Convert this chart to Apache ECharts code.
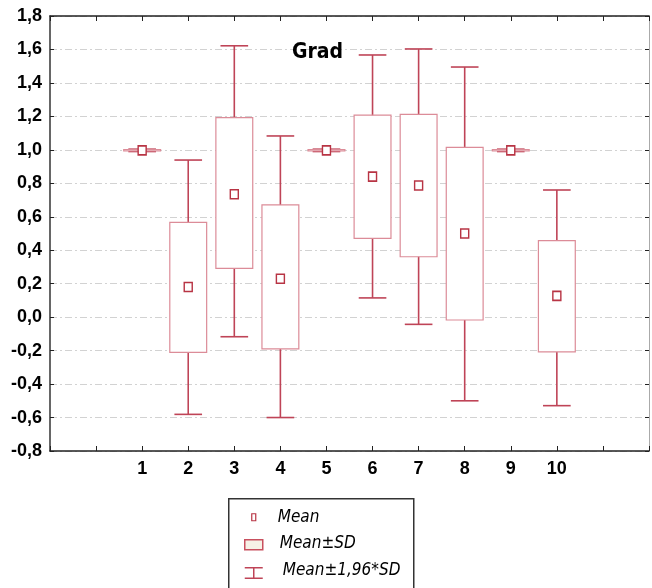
<!DOCTYPE html>
<html>
<head>
    <meta http-equiv="Content-Type" content="text/html; charset=utf-8" />
    <title>Grad</title>
    <script type="text/javascript" src="https://cdn.jsdelivr.net/npm/echarts@6/dist/echarts.min.js"></script>
    <style>
        html, body {
            margin: 0;
            padding: 0;
            background: #fff;
        }

        #chart {
            width: 652px;
            height: 588px;
        }
    </style>
</head>
<body>
    <div id="chart"></div>

    <script>
        // values
        var categories = ['1', '2', '3', '4', '5', '6', '7', '8', '9', '10'];
        var means = [0.997, 0.18, 0.735, 0.23, 0.997, 0.84, 0.787, 0.50, 0.997, 0.127];
        var sdLow = [0.993, -0.21, 0.292, -0.19, 0.993, 0.471, 0.361, -0.017, 0.993, -0.208];
        var sdHigh = [1.001, 0.567, 1.192, 0.671, 1.001, 1.207, 1.212, 1.015, 1.001, 0.457];
        var ciLow = [0.99, -0.581, -0.117, -0.60, 0.99, 0.115, -0.043, -0.50, 0.99, -0.529];
        var ciHigh = [1.004, 0.939, 1.622, 1.083, 1.004, 1.567, 1.603, 1.495, 1.004, 0.760];
        var yTicks = [-0.8, -0.6, -0.4, -0.2, 0.0, 0.2, 0.4, 0.6, 0.8, 1.0, 1.2, 1.4, 1.6, 1.8];

        var labelFont = "'Liberation Sans', Arial, sans-serif";
        var narrowFont = "'Liberation Sans Narrow', 'DejaVu Sans Condensed', 'Liberation Sans', sans-serif";
        var whiskerColor = '#bf4457';
        var boxColor = '#dc8c98';
        var meanColor = '#b83444';

        var myChart = echarts.init(document.getElementById('chart'), null, { renderer: 'canvas' });

        var ciData = categories.map(function (c, i) { return [i + 1, ciLow[i], ciHigh[i]]; });
        var sdData = categories.map(function (c, i) { return [i + 1, sdLow[i], sdHigh[i]]; });
        var meanData = categories.map(function (c, i) { return [i + 1, means[i]]; });

        function renderWhisker(params, api) {
            var x = api.value(0);
            var lo = api.coord([x, api.value(1)]);
            var hi = api.coord([x, api.value(2)]);
            var half = api.size([1, 0])[0] * 0.3;
            var style = { stroke: whiskerColor, lineWidth: 1.6 };
            return {
                type: 'group',
                children: [
                    { type: 'line', shape: { x1: lo[0], y1: lo[1], x2: hi[0], y2: hi[1] }, style: style },
                    { type: 'line', shape: { x1: hi[0] - half, y1: hi[1], x2: hi[0] + half, y2: hi[1] }, style: style },
                    { type: 'line', shape: { x1: lo[0] - half, y1: lo[1], x2: lo[0] + half, y2: lo[1] }, style: style }
                ]
            };
        }

        function renderBox(params, api) {
            var x = api.value(0);
            var lo = api.coord([x, api.value(1)]);
            var hi = api.coord([x, api.value(2)]);
            var half = api.size([1, 0])[0] * 0.4;
            return {
                type: 'rect',
                shape: { x: lo[0] - half, y: hi[1], width: half * 2, height: Math.max(lo[1] - hi[1], 1) },
                style: { fill: '#fff', stroke: boxColor, lineWidth: 1.2 }
            };
        }

        var option = {
            animation: false,
            backgroundColor: '#fff',
            title: {
                text: 'Grad',
                left: 287,
                top: 37,
                textStyle: { fontFamily: narrowFont, fontSize: 21, fontWeight: 'bold', color: '#000' }
            },
            grid: { left: 50, right: 1, top: 16, bottom: 137 },
            xAxis: [
                {
                    type: 'value',
                    min: -1,
                    max: 12,
                    interval: 1,
                    axisLine: { show: true, onZero: false, lineStyle: { color: '#222', width: 1.5 } },
                    axisTick: { show: true, inside: true, length: 5, lineStyle: { color: '#222' } },
                    axisLabel: {
                        margin: 9,
                        fontFamily: labelFont,
                        fontSize: 18,
                        fontWeight: 'bold',
                        color: '#000',
                        formatter: function (v) {
                            return (v >= 1 && v <= categories.length) ? categories[v - 1] : '';
                        }
                    },
                    splitLine: { show: false }
                },
                {
                    type: 'value',
                    position: 'top',
                    min: -1,
                    max: 12,
                    interval: 1,
                    axisLine: { show: true, onZero: false, lineStyle: { color: '#222', width: 1.5 } },
                    axisTick: { show: true, inside: true, length: 5, lineStyle: { color: '#222' } },
                    axisLabel: { show: false },
                    splitLine: { show: false }
                }
            ],
            yAxis: [
                {
                    type: 'value',
                    min: yTicks[0],
                    max: yTicks[yTicks.length - 1],
                    interval: 0.2,
                    axisLine: { show: true, onZero: false, lineStyle: { color: '#333', width: 1.5 } },
                    axisTick: { show: true, inside: true, length: 4, lineStyle: { color: '#222' } },
                    axisLabel: {
                        margin: 8,
                        fontFamily: labelFont,
                        fontSize: 18,
                        fontWeight: 'bold',
                        color: '#000',
                        formatter: function (v) {
                            return v.toFixed(1).replace('.', ',');
                        }
                    },
                    splitLine: {
                        show: true,
                        lineStyle: { color: '#d2d2d2', width: 1, type: [7, 3, 2, 3] }
                    }
                },
                {
                    type: 'value',
                    position: 'right',
                    min: yTicks[0],
                    max: yTicks[yTicks.length - 1],
                    interval: 0.2,
                    axisLine: { show: true, onZero: false, lineStyle: { color: '#aaa', width: 1 } },
                    axisTick: { show: true, inside: true, length: 4, lineStyle: { color: '#222' } },
                    axisLabel: { show: false },
                    splitLine: { show: false }
                }
            ],
            series: [
                {
                    name: 'Mean±1,96*SD',
                    type: 'custom',
                    renderItem: renderWhisker,
                    encode: { x: 0, y: [1, 2] },
                    data: ciData
                },
                {
                    name: 'Mean±SD',
                    type: 'custom',
                    renderItem: renderBox,
                    encode: { x: 0, y: [1, 2] },
                    data: sdData
                },
                {
                    name: 'Mean',
                    type: 'scatter',
                    symbol: 'rect',
                    symbolSize: [8, 9],
                    itemStyle: { color: '#fff', borderColor: meanColor, borderWidth: 1.5, opacity: 1 },
                    data: meanData
                }
            ],
            graphic: [
                {
                    type: 'group',
                    left: 228,
                    top: 498,
                    children: [
                        { type: 'rect', shape: { x: 0, y: 0, width: 185, height: 100 }, style: { fill: '#fff', stroke: '#333', lineWidth: 1.5 } },
                        { type: 'rect', shape: { x: 23, y: 15, width: 4, height: 7 }, style: { fill: '#fff', stroke: meanColor, lineWidth: 1.2 } },
                        { type: 'text', x: 49, y: 19, style: { text: 'Mean', fontFamily: narrowFont, fontStyle: 'italic', fontSize: 17, fill: '#000', verticalAlign: 'middle' } },
                        { type: 'rect', shape: { x: 16, y: 41, width: 18, height: 10 }, style: { fill: '#f6f1e6', stroke: '#c8505e', lineWidth: 1.5 } },
                        { type: 'text', x: 51, y: 45, style: { text: 'Mean±SD', fontFamily: narrowFont, fontStyle: 'italic', fontSize: 17, fill: '#000', verticalAlign: 'middle' } },
                        { type: 'line', shape: { x1: 16, y1: 69, x2: 34, y2: 69 }, style: { stroke: whiskerColor, lineWidth: 1.5 } },
                        { type: 'line', shape: { x1: 16, y1: 79.5, x2: 34, y2: 79.5 }, style: { stroke: whiskerColor, lineWidth: 1.5 } },
                        { type: 'line', shape: { x1: 25, y1: 69, x2: 25, y2: 79.5 }, style: { stroke: whiskerColor, lineWidth: 1.5 } },
                        { type: 'text', x: 54, y: 72, style: { text: 'Mean±1,96*SD', fontFamily: narrowFont, fontStyle: 'italic', fontSize: 17, fill: '#000', verticalAlign: 'middle' } }
                    ]
                }
            ]
        };

        myChart.setOption(option);
    </script>
</body>
</html>
